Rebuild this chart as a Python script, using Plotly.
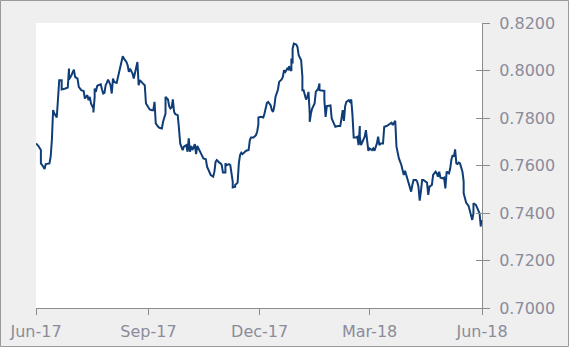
import pandas as pd
import plotly.graph_objects as go

# Days since 2017-06-01 and exchange-rate values
day_offsets = [0, 2, 4, 4, 6, 7, 8, 10, 11, 12, 13, 14, 15, 17, 18, 19, 21, 21, 24, 26,
               27, 27, 29, 30, 31, 32, 34, 35, 37, 39, 40, 42, 43, 44, 45, 47, 47, 48, 48, 49,
               50, 51, 53, 54, 55, 56, 57, 58, 59, 61, 62, 63, 64, 66, 68, 69, 71, 72, 74, 75,
               76, 77, 79, 80, 82, 83, 84, 85, 87, 89, 90, 92, 93, 95, 96, 97, 98, 100, 101, 103,
               104, 106, 106, 108, 109, 110, 111, 112, 113, 114, 116, 117, 118, 120, 121, 123, 124, 125, 126, 127,
               128, 130, 131, 132, 134, 135, 137, 139, 140, 141, 142, 143, 145, 146, 147, 148, 150, 151, 152, 153,
               155, 155, 156, 158, 159, 161, 161, 163, 163, 165, 166, 167, 168, 169, 171, 172, 174, 175, 176, 178,
               180, 181, 182, 182, 184, 186, 187, 189, 190, 192, 193, 194, 195, 196, 198, 199, 201, 202, 203, 204,
               206, 207, 207, 209, 209, 210, 210, 211, 213, 214, 215, 217, 218, 218, 219, 221, 222, 223, 224, 224,
               225, 226, 228, 229, 231, 232, 232, 234, 236, 236, 237, 238, 240, 241, 242, 244, 245, 247, 248, 249,
               250, 251, 252, 253, 254, 256, 257, 258, 259, 260, 262, 263, 264, 265, 265, 266, 268, 269, 270, 271,
               272, 273, 275, 276, 277, 279, 280, 281, 282, 284, 285, 287, 288, 290, 291, 292, 294, 295, 296, 297,
               299, 300, 301, 302, 303, 304, 306, 307, 308, 309, 311, 312, 313, 314, 315, 316, 317, 319, 320, 321,
               322, 324, 325, 327, 328, 329, 330, 331, 333, 334, 335, 336, 336, 338, 339, 340, 341, 342, 343, 344,
               345, 346, 347, 349, 350, 350, 352, 354, 355, 357, 358, 358, 360, 361, 363, 364, 364, 365]

rates = [0.7693, 0.7682, 0.7665, 0.7609, 0.7595, 0.7585, 0.7606, 0.7606, 0.7609, 0.7637,
         0.7707, 0.7833, 0.7819, 0.7802, 0.7889, 0.7959, 0.7959, 0.7920, 0.7924, 0.7928,
         0.8008, 0.7962, 0.7980, 0.7994, 0.8004, 0.7973, 0.7966, 0.7931, 0.7917, 0.7914,
         0.7882, 0.7896, 0.7875, 0.7889, 0.7861, 0.7840, 0.7823, 0.7889, 0.7924, 0.7910,
         0.7934, 0.7938, 0.7942, 0.7920, 0.7903, 0.7906, 0.7938, 0.7949, 0.7962, 0.7938,
         0.7903, 0.7966, 0.7952, 0.7948, 0.7994, 0.8022, 0.8060, 0.8050, 0.8036, 0.8022,
         0.7994, 0.8008, 0.7987, 0.7966, 0.8018, 0.8036, 0.7938, 0.7959, 0.7948, 0.7938,
         0.7861, 0.7840, 0.7836, 0.7833, 0.7833, 0.7868, 0.7777, 0.7763, 0.7759, 0.7756,
         0.7784, 0.7819, 0.7889, 0.7878, 0.7850, 0.7840, 0.7844, 0.7878, 0.7826, 0.7816,
         0.7812, 0.7756, 0.7693, 0.7665, 0.7679, 0.7686, 0.7658, 0.7714, 0.7658, 0.7682,
         0.7665, 0.7690, 0.7648, 0.7682, 0.7665, 0.7651, 0.7630, 0.7626, 0.7595, 0.7581,
         0.7567, 0.7560, 0.7553, 0.7574, 0.7616, 0.7623, 0.7612, 0.7609, 0.7602, 0.7570,
         0.7570, 0.7609, 0.7601, 0.7606, 0.7602, 0.7532, 0.7508, 0.7511, 0.7518, 0.7528,
         0.7609, 0.7644, 0.7654, 0.7648, 0.7658, 0.7662, 0.7665, 0.7707, 0.7718, 0.7718,
         0.7728, 0.7742, 0.7774, 0.7802, 0.7805, 0.7802, 0.7819, 0.7864, 0.7868, 0.7854,
         0.7833, 0.7826, 0.7847, 0.7889, 0.7920, 0.7952, 0.7962, 0.7973, 0.8001, 0.7994,
         0.8011, 0.8001, 0.8018, 0.7998, 0.8050, 0.8029, 0.8092, 0.8113, 0.8109, 0.8099,
         0.8064, 0.8043, 0.7973, 0.7917, 0.7917, 0.7878, 0.7889, 0.7910, 0.7819, 0.7784,
         0.7819, 0.7840, 0.7861, 0.7910, 0.7924, 0.7945, 0.7917, 0.7914, 0.7914, 0.7875,
         0.7805, 0.7850, 0.7850, 0.7853, 0.7798, 0.7770, 0.7763, 0.7766, 0.7766, 0.7766,
         0.7798, 0.7833, 0.7788, 0.7850, 0.7868, 0.7875, 0.7868, 0.7878, 0.7812, 0.7718,
         0.7718, 0.7721, 0.7686, 0.7766, 0.7721, 0.7686, 0.7707, 0.7721, 0.7749, 0.7714,
         0.7662, 0.7672, 0.7665, 0.7672, 0.7662, 0.7693, 0.7721, 0.7686, 0.7693, 0.7693,
         0.7763, 0.7766, 0.7770, 0.7777, 0.7780, 0.7770, 0.7788, 0.7679, 0.7651, 0.7630,
         0.7602, 0.7581, 0.7560, 0.7578, 0.7560, 0.7539, 0.7511, 0.7490, 0.7518, 0.7539,
         0.7539, 0.7532, 0.7511, 0.7452, 0.7490, 0.7539, 0.7539, 0.7532, 0.7528, 0.7476,
         0.7511, 0.7518, 0.7560, 0.7574, 0.7567, 0.7553, 0.7574, 0.7549, 0.7546, 0.7549,
         0.7504, 0.7570, 0.7574, 0.7567, 0.7588, 0.7626, 0.7644, 0.7637, 0.7668, 0.7609,
         0.7606, 0.7612, 0.7609, 0.7574, 0.7532, 0.7483, 0.7444, 0.7430, 0.7406, 0.7371,
         0.7399, 0.7441, 0.7434, 0.7420, 0.7399, 0.7343, 0.7350, 0.7371]

tick_dates = ["2017-06-01", "2017-09-01", "2017-12-01", "2018-03-01", "2018-06-01"]
tick_labels = ["Jun-17", "Sep-17", "Dec-17", "Mar-18", "Jun-18"]
y_ticks = [0.70, 0.72, 0.74, 0.76, 0.78, 0.80, 0.82]

dates = pd.Timestamp("2017-06-01") + pd.to_timedelta(day_offsets, unit="D")

W, H = 569, 347
ML, MR, MT, MB = 36, 87, 23, 39
pw, ph = W - ML - MR, H - MT - MB

axis_col = "#8c8c8c"
text_col = "#8b8b99"
font = dict(family="DejaVu Sans, Verdana, sans-serif", size=16, color=text_col)

fig = go.Figure()
fig.add_trace(go.Scatter(x=dates, y=rates, mode="lines",
                         line=dict(color="#0f3d78", width=2), hoverinfo="skip",
                         showlegend=False))
# invisible trace to drive inner tick marks on right axis
fig.add_trace(go.Scatter(x=[dates[0]], y=[rates[0]], yaxis="y2", mode="lines",
                         line=dict(width=0), showlegend=False, hoverinfo="skip"))

fig.update_layout(
    width=W, height=H,
    margin=dict(l=ML, r=MR, t=MT, b=MB, pad=0, autoexpand=False),
    paper_bgcolor="#efeff0",
    plot_bgcolor="#ffffff",
    font=font,
    xaxis=dict(type="date", range=[tick_dates[0], tick_dates[-1]],
               tickvals=tick_dates, ticktext=tick_labels,
               showgrid=False, zeroline=False, automargin=False,
               showline=True, linecolor=axis_col, linewidth=1,
               ticks="outside", ticklen=6, tickcolor=axis_col, tickwidth=1,
               ticklabelstandoff=3, tickfont=font),
    yaxis=dict(side="right", range=[0.70, 0.82], tickvals=y_ticks,
               tickformat=".4f", showgrid=False, zeroline=False, automargin=False,
               showline=True, linecolor=axis_col, linewidth=1,
               ticks="outside", ticklen=7, tickcolor=axis_col, tickwidth=1,
               ticklabelstandoff=6, tickfont=font),
    yaxis2=dict(overlaying="y", side="right", range=[0.70, 0.82], tickvals=y_ticks,
                showticklabels=False, showgrid=False, zeroline=False, automargin=False,
                showline=False, ticks="inside", ticklen=6, tickcolor=axis_col,
                tickwidth=1),
    shapes=[dict(type="rect", xref="paper", yref="paper",
                 x0=(-ML + 0.5) / pw, x1=(W - ML - 0.5) / pw,
                 y0=(-MB + 0.5) / ph, y1=(H - MB - 0.5) / ph,
                 line=dict(color="#9a9a9a", width=1), fillcolor="rgba(0,0,0,0)",
                 layer="below")],
)

fig.write_html("out.html")
